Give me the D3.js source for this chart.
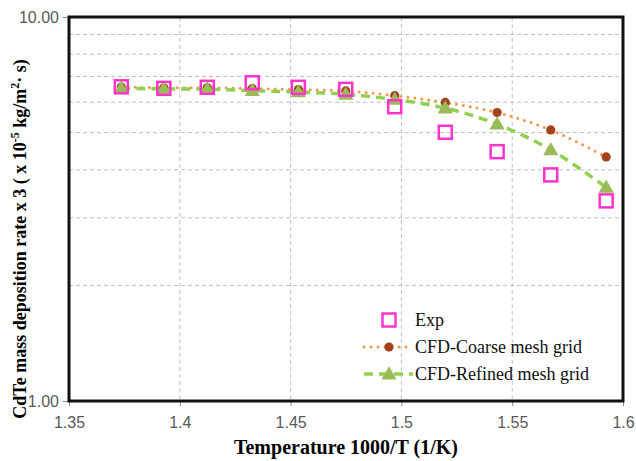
<!DOCTYPE html>
<html>
<head>
<meta charset="utf-8">
<script src="https://cdnjs.cloudflare.com/ajax/libs/d3/7.8.5/d3.min.js"></script>
<style>
  body { margin: 0; background: #fff; }
  svg { display: block; }
</style>
</head>
<body>
<div class="chartWrapper"></div>
<script>
// values (x = 1000/T, y on log axis)
var xVals = [1.3736, 1.3928, 1.4124, 1.4327, 1.4535, 1.4749, 1.4970, 1.5198, 1.5432, 1.5674, 1.5924]
var expVals = [6.58, 6.52, 6.56, 6.74, 6.56, 6.48, 5.84, 5.01, 4.46, 3.88, 3.32]
var coarseVals = [6.57, 6.54, 6.54, 6.51, 6.47, 6.42, 6.24, 5.99, 5.64, 5.08, 4.32]
var refinedVals = [6.52, 6.50, 6.49, 6.43, 6.38, 6.29, 6.10, 5.79, 5.26, 4.51, 3.60]
var xTicks = [1.35, 1.4, 1.45, 1.5, 1.55, 1.6]
var yGrid = [2, 3, 4, 5, 6, 7, 8, 9]
var yTicks = [1, 10]
var legendNames = ['Exp', 'CFD-Coarse mesh grid', 'CFD-Refined mesh grid']

var width = 636, height = 461
var margin = {top: 17, right: 13, bottom: 60, left: 69}

var svg = d3.select('.chartWrapper').append('svg')
    .attr('width', width)
    .attr('height', height)

var x = d3.scaleLinear().domain([1.35, 1.6]).range([margin.left, width - margin.right])
var y = d3.scaleLog().domain([1, 10]).range([height - margin.bottom, margin.top])

//grid lines
svg.append('g').selectAll('line.hg')
    .data(yGrid).enter().append('line')
    .attr('x1', x(1.35)).attr('x2', x(1.6))
    .attr('y1', function(d) { return y(d) }).attr('y2', function(d) { return y(d) })
    .attr('stroke', '#bfbfbf').attr('stroke-width', 1).attr('stroke-dasharray', '4,3')

svg.append('g').selectAll('line.vg')
    .data(xTicks.slice(1, -1)).enter().append('line')
    .attr('x1', function(d) { return x(d) }).attr('x2', function(d) { return x(d) })
    .attr('y1', y(10)).attr('y2', y(1))
    .attr('stroke', '#bfbfbf').attr('stroke-width', 1).attr('stroke-dasharray', '4,3')

// axes
var xAxis = d3.axisBottom(x).tickValues(xTicks).tickSize(5).tickFormat(function(d) { return d3.format('')(+d.toFixed(2)) })
var yAxis = d3.axisLeft(y).tickValues(yTicks).tickSize(6).tickFormat(d3.format('.2f'))

var gx = svg.append('g').attr('transform', 'translate(0,' + y(1) + ')').call(xAxis)
var gy = svg.append('g').attr('transform', 'translate(' + x(1.35) + ',0)').call(yAxis)
;[gx, gy].forEach(function(g) {
    g.select('.domain').remove()
    g.selectAll('line').attr('stroke', '#8c8c8c')
    g.selectAll('text').attr('fill', '#595959').style('font-family', '"Liberation Sans", Arial, sans-serif').style('font-size', '16px')
})
gx.selectAll('text').attr('dy', '1.2em')
gy.selectAll('text').attr('x', -10).attr('dy', '0.35em')

// frame
svg.append('rect')
    .attr('x', x(1.35)).attr('y', y(10))
    .attr('width', x(1.6) - x(1.35)).attr('height', y(1) - y(10))
    .attr('fill', 'none').attr('stroke', '#111').attr('stroke-width', 3)

var line = function(vals) {
    return d3.line()
        .x(function(d, i) { return x(xVals[i]) })
        .y(function(d) { return y(d) })
        .curve(d3.curveCatmullRom.alpha(0.5))(vals)
}

// coarse series
svg.append('path').attr('d', line(coarseVals))
    .attr('fill', 'none').attr('stroke', '#f79646').attr('stroke-width', 3)
    .attr('stroke-linecap', 'round').attr('stroke-dasharray', '0,7')

// refined series
svg.append('path').attr('d', line(refinedVals))
    .attr('fill', 'none').attr('stroke', '#92d050').attr('stroke-width', 3.5)
    .attr('stroke-dasharray', '9,6')

var tri = d3.symbol().type(d3.symbolTriangle).size(100)

svg.append('g').selectAll('circle')
    .data(coarseVals).enter().append('circle')
    .attr('cx', function(d, i) { return x(xVals[i]) })
    .attr('cy', function(d) { return y(d) })
    .attr('r', 4.6).attr('fill', '#a3421c')

svg.append('g').selectAll('path')
    .data(refinedVals).enter().append('path')
    .attr('d', tri)
    .attr('transform', function(d, i) { return 'translate(' + x(xVals[i]) + ',' + (y(d) + 1) + ')' })
    .attr('fill', '#9bbb59')

svg.append('g').selectAll('rect')
    .data(expVals).enter().append('rect')
    .attr('x', function(d, i) { return x(xVals[i]) - 6.5 })
    .attr('y', function(d) { return y(d) - 6.5 })
    .attr('width', 13).attr('height', 13)
    .attr('fill', 'none').attr('stroke', '#ff33cc').attr('stroke-width', 2.5)

// legend
var lg = svg.append('g').attr('transform', 'translate(389,320)')
var rowH = 27
lg.append('rect').attr('x', -6.5).attr('y', -6.5).attr('width', 13).attr('height', 13)
    .attr('fill', 'none').attr('stroke', '#ff33cc').attr('stroke-width', 2.5)
lg.append('line').attr('x1', -25).attr('x2', 24).attr('y1', rowH).attr('y2', rowH)
    .attr('stroke', '#f79646').attr('stroke-width', 3).attr('stroke-linecap', 'round').attr('stroke-dasharray', '0,7')
lg.append('circle').attr('cx', 0).attr('cy', rowH).attr('r', 4.6).attr('fill', '#a3421c')
lg.append('line').attr('x1', -25).attr('x2', 24).attr('y1', rowH * 2).attr('y2', rowH * 2)
    .attr('stroke', '#92d050').attr('stroke-width', 3.5).attr('stroke-dasharray', '9,6')
lg.append('path').attr('d', tri).attr('transform', 'translate(0,' + (rowH * 2 + 1) + ')').attr('fill', '#9bbb59')

lg.selectAll('text').data(legendNames).enter().append('text')
    .attr('x', 26).attr('y', function(d, i) { return i * rowH })
    .attr('dy', '0.35em')
    .style('font-family', '"Liberation Serif", "Times New Roman", serif')
    .style('font-size', '18px')
    .attr('fill', '#111')
    .text(function(d) { return d })

// axis titles
svg.append('text')
    .attr('x', (x(1.35) + x(1.6)) / 2).attr('y', 454)
    .attr('text-anchor', 'middle')
    .style('font-family', '"Liberation Serif", "Times New Roman", serif')
    .style('font-size', '20px').style('font-weight', 'bold')
    .text('Temperature 1000/T (1/K)')

var yt = svg.append('text')
    .attr('transform', 'translate(26,239) rotate(-90)')
    .attr('text-anchor', 'middle')
    .style('font-family', '"Liberation Serif", "Times New Roman", serif')
    .style('font-size', '18px').style('font-weight', 'bold')
yt.append('tspan').text('CdTe mass deposition rate x 3 ( x 10')
yt.append('tspan').attr('dy', -7).style('font-size', '12px').text('-5')
yt.append('tspan').attr('dy', 7).text(' kg/m')
yt.append('tspan').attr('dy', -7).style('font-size', '12px').text('2')
yt.append('tspan').attr('dy', 7).text('· s)')
</script>
</body>
</html>
